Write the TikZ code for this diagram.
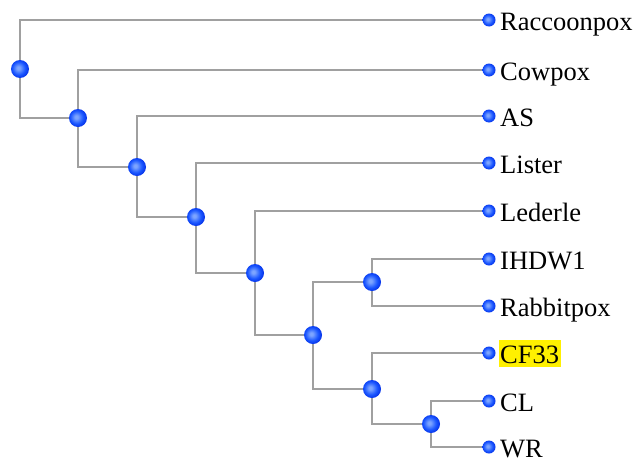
\documentclass[tikz,border=0pt]{standalone}
\usepackage{fontspec}
\setmainfont{Liberation Serif}
\usetikzlibrary{backgrounds}
\definecolor{ballhi}{RGB}{125,165,255}
\definecolor{ballmid}{RGB}{25,85,255}
\definecolor{balledge}{RGB}{0,40,225}
\definecolor{linegray}{RGB}{160,160,160}
\definecolor{hiyellow}{RGB}{255,240,0}
\pgfdeclareradialshading{blueball}{\pgfqpoint{-5bp}{3bp}}{%
  color(0bp)=(ballhi); color(4bp)=(ballhi); color(18bp)=(ballmid);
  color(30bp)=(balledge); color(70bp)=(balledge)}
\begin{document}
\begin{tikzpicture}[x=1pt,y=-1pt,
  innernode/.style={circle,shading=blueball,minimum size=18pt,inner sep=0pt},
  leafnode/.style={circle,shading=blueball,minimum size=13pt,inner sep=0pt},
  lbl/.style={anchor=base west,inner sep=0pt,font=\fontsize{26.5}{30}\selectfont,text=black},
  branch/.style={draw=linegray,line width=2.8pt}]
\useasboundingbox (0,0) rectangle (634,458);
% leaves
\node[leafnode] (l1) at (489,20) {};
\node[leafnode] (l2) at (489,70) {};
\node[leafnode] (l3) at (489,116) {};
\node[leafnode] (l4) at (489,163) {};
\node[leafnode] (l5) at (489,211) {};
\node[leafnode] (l6) at (489,259) {};
\node[leafnode] (l7) at (489,306) {};
\node[leafnode] (l8) at (489,353) {};
\node[leafnode] (l9) at (489,401) {};
\node[leafnode] (l10) at (489,447) {};
% internal nodes
\node[innernode] (n1) at (20,69) {};
\node[innernode] (n2) at (78,118) {};
\node[innernode] (n3) at (137,167) {};
\node[innernode] (n4) at (196,217) {};
\node[innernode] (n5) at (255,273) {};
\node[innernode] (n6) at (313,335) {};
\node[innernode] (n7) at (372,282) {};
\node[innernode] (n8) at (372,389) {};
\node[innernode] (n9) at (431,424) {};
% labels
\node[lbl] (t1) at ([xshift=11pt,yshift=-10pt]l1.center) {Raccoonpox};
\node[lbl] (t2) at ([xshift=11pt,yshift=-10pt]l2.center) {Cowpox};
\node[lbl] (t3) at ([xshift=11pt,yshift=-10pt]l3.center) {AS};
\node[lbl] (t4) at ([xshift=11pt,yshift=-10pt]l4.center) {Lister};
\node[lbl] (t5) at ([xshift=11pt,yshift=-10pt]l5.center) {Lederle};
\node[lbl] (t6) at ([xshift=11pt,yshift=-10pt]l6.center) {IHDW1};
\node[lbl] (t7) at ([xshift=11pt,yshift=-10pt]l7.center) {Rabbitpox};
\node[lbl,fill=hiyellow,inner xsep=1.5pt,text height=23pt,text depth=4pt] (t8) at ([xshift=9.5pt,yshift=-10pt]l8.center) {CF33};
\node[lbl] (t9) at ([xshift=11pt,yshift=-10pt]l9.center) {CL};
\node[lbl] (t10) at ([xshift=11pt,yshift=-10pt]l10.center) {WR};
% branches
\begin{scope}[on background layer]
\draw[branch] (n1.center) |- (l1.center);
\draw[branch] (n1.center) |- (n2.center);
\draw[branch] (n2.center) |- (l2.center);
\draw[branch] (n2.center) |- (n3.center);
\draw[branch] (n3.center) |- (l3.center);
\draw[branch] (n3.center) |- (n4.center);
\draw[branch] (n4.center) |- (l4.center);
\draw[branch] (n4.center) |- (n5.center);
\draw[branch] (n5.center) |- (l5.center);
\draw[branch] (n5.center) |- (n6.center);
\draw[branch] (n6.center) |- (n7.center);
\draw[branch] (n6.center) |- (n8.center);
\draw[branch] (n7.center) |- (l6.center);
\draw[branch] (n7.center) |- (l7.center);
\draw[branch] (n8.center) |- (l8.center);
\draw[branch] (n8.center) |- (n9.center);
\draw[branch] (n9.center) |- (l9.center);
\draw[branch] (n9.center) |- (l10.center);
\end{scope}
\end{tikzpicture}
\end{document}
